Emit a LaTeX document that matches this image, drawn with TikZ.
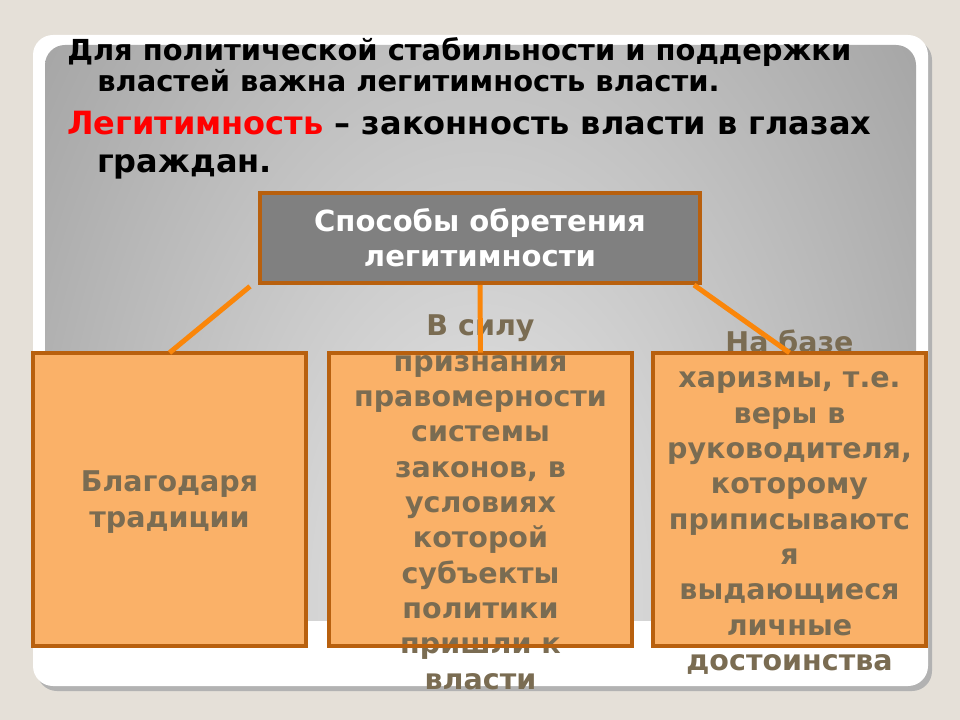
\documentclass[tikz,border=0pt]{standalone}
\usepackage{fontspec}
\setmainfont{DejaVu Sans}
\usetikzlibrary{positioning}

\definecolor{slidebg}{RGB}{229,224,216}
\definecolor{paneldark}{RGB}{166,166,166}
\definecolor{panellight}{RGB}{232,232,232}
\definecolor{boxfill}{RGB}{250,177,104}
\definecolor{boxline}{RGB}{184,96,14}
\definecolor{boxtext}{RGB}{122,108,82}
\definecolor{connector}{RGB}{250,134,10}
\definecolor{headfill}{RGB}{128,128,128}

\tikzset{
  title/.style={anchor=base west, inner sep=0pt, font=\bfseries\fontsize{21.7}{24}\selectfont},
  bigtitle/.style={title, font=\bfseries\fontsize{24}{26}\selectfont},
  head/.style={fill=headfill, draw=boxline, line width=3pt, text=white,
    minimum width={0.75*440pt}, minimum height={0.75*90pt}, inner sep=0pt,
    align=center, font=\bfseries\fontsize{21.8}{26.25}\selectfont},
  obox/.style={fill=boxfill, minimum height={0.75*293pt}, inner sep=0pt},
  boxtext/.style={text=boxtext, align=center, inner sep=0pt,
    font=\bfseries\fontsize{21.4}{26.5}\selectfont},
  frame/.style={draw=boxline, line width=3pt},
  link/.style={draw=connector, line width=3.75pt}
}

\begin{document}
\begin{tikzpicture}[x=0.75pt,y=-0.75pt]
  \useasboundingbox (0,0) rectangle (960,720);
  \fill[slidebg] (0,0) rectangle (960,720);

  % slide
  \fill[black!30, rounded corners=15] (37,40) rectangle (932,691);
  \fill[white, rounded corners=15] (33,35) rectangle (928,686);
  \begin{scope}
    \clip[rounded corners=15] (45,45) rectangle (916,660);
    \clip (0,0) rectangle (960,620);
    \shade[inner color=panellight, outer color=paneldark]
      (-70,-310) rectangle (1030,1510);
  \end{scope}

  % title
  \node[title] (t1) at (67,61) {Для политической стабильности и поддержки};
  \node[title] (t2) at (97,92) {властей важна легитимность власти.};
  \node[bigtitle] (t3) at (67,135) {\textcolor{red}{Легитимность} – законность власти в глазах};
  \node[bigtitle] (t4) at (97,173) {граждан.};

  % head
  \node[head] (ways) at (480,238) {Способы обретения\\легитимности};

  % boxes
  \node[obox, minimum width={0.75*273pt}] (trad) at (169.5,499.5) {};
  \node[obox, minimum width={0.75*303pt}] (law) at (480.5,499.5) {};
  \node[obox, minimum width={0.75*273pt}] (charis) at (789.5,499.5) {};

  \node[boxtext] (tradtxt) at ([yshift=-2pt]trad) {Благодаря\\традиции};
  \node[boxtext] (lawtxt) at ([yshift=-2pt]law)
    {В силу\\признания\\правомерности\\системы\\законов, в\\условиях\\которой\\субъекты\\политики\\пришли к\\власти};
  \node[boxtext] (charistxt) at ([yshift=-2pt]charis)
    {На базе\\харизмы, т.е.\\веры в\\руководителя,\\которому\\приписываютс\\я\\выдающиеся\\личные\\достоинства};

  \foreach \b in {trad,law,charis}
    \draw[frame] (\b.north west) rectangle (\b.south east);

  % links
  \draw[link] ([xshift=-6pt,yshift=-1pt]ways.south west) -- (trad.north);
  \draw[link] (ways.south) -- (law.north);
  \draw[link] ([xshift=-6pt]ways.south east) -- (charis.north);
\end{tikzpicture}
\end{document}
